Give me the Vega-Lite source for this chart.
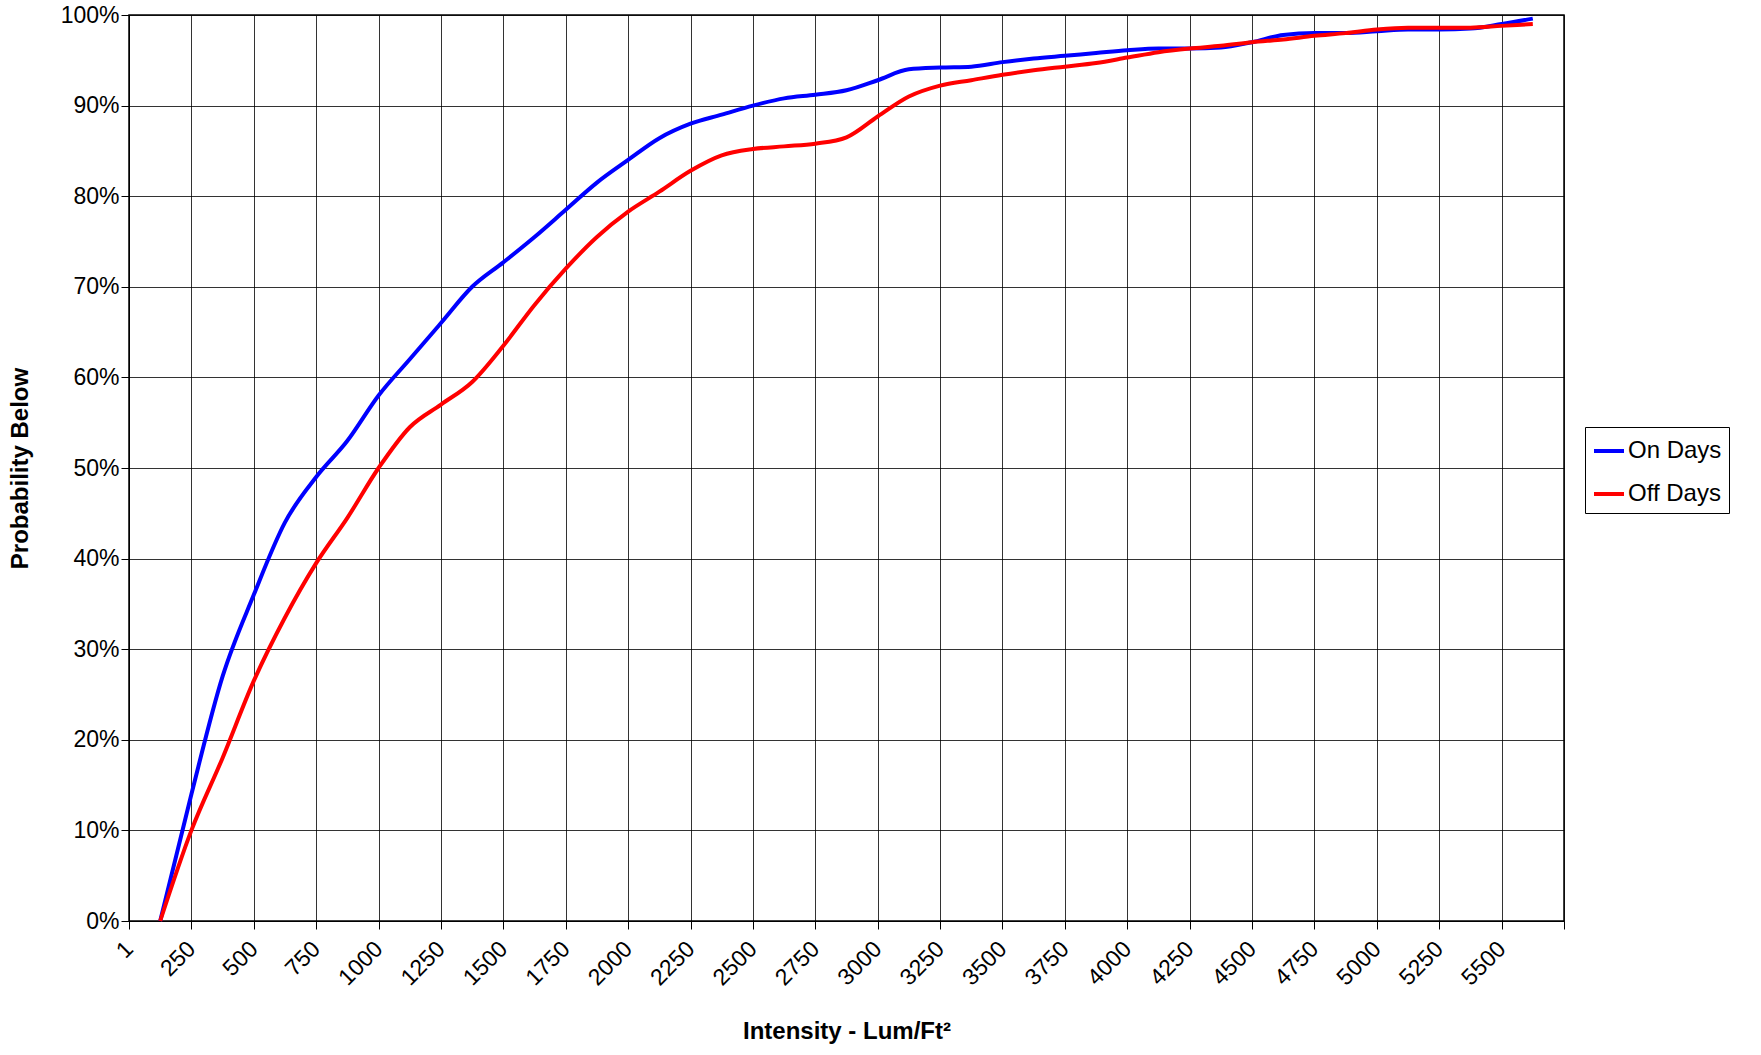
{
  "$schema": "https://vega.github.io/schema/vega-lite/v6.json",
  "width": 1435,
  "height": 906,
  "autosize": {"type": "none"},
  "padding": {"left": 129, "top": 15, "right": 197, "bottom": 134},
  "background": "white",
  "data": {
    "values": [
      {"x":125,"On Days":0,"Off Days":0},
      {"x":250,"On Days":14,"Off Days":10},
      {"x":375,"On Days":27,"Off Days":18},
      {"x":500,"On Days":36,"Off Days":26.5},
      {"x":625,"On Days":44,"Off Days":33.5},
      {"x":750,"On Days":49,"Off Days":39.5},
      {"x":875,"On Days":53,"Off Days":44.5},
      {"x":1000,"On Days":58,"Off Days":50},
      {"x":1125,"On Days":62,"Off Days":54.5},
      {"x":1250,"On Days":66,"Off Days":57},
      {"x":1375,"On Days":70,"Off Days":59.5},
      {"x":1500,"On Days":72.7,"Off Days":63.5},
      {"x":1625,"On Days":75.5,"Off Days":68},
      {"x":1750,"On Days":78.5,"Off Days":72},
      {"x":1875,"On Days":81.5,"Off Days":75.5},
      {"x":2000,"On Days":84,"Off Days":78.3},
      {"x":2125,"On Days":86.4,"Off Days":80.5},
      {"x":2250,"On Days":88,"Off Days":82.8},
      {"x":2375,"On Days":89,"Off Days":84.5},
      {"x":2500,"On Days":90,"Off Days":85.2},
      {"x":2625,"On Days":90.8,"Off Days":85.5},
      {"x":2750,"On Days":91.2,"Off Days":85.8},
      {"x":2875,"On Days":91.7,"Off Days":86.5},
      {"x":3000,"On Days":92.8,"Off Days":88.8},
      {"x":3125,"On Days":94,"Off Days":91},
      {"x":3250,"On Days":94.2,"Off Days":92.2},
      {"x":3375,"On Days":94.3,"Off Days":92.8},
      {"x":3500,"On Days":94.8,"Off Days":93.4},
      {"x":3625,"On Days":95.2,"Off Days":93.9},
      {"x":3750,"On Days":95.5,"Off Days":94.3},
      {"x":3875,"On Days":95.8,"Off Days":94.7},
      {"x":4000,"On Days":96.1,"Off Days":95.3},
      {"x":4125,"On Days":96.3,"Off Days":95.9},
      {"x":4250,"On Days":96.3,"Off Days":96.3},
      {"x":4375,"On Days":96.4,"Off Days":96.6},
      {"x":4500,"On Days":97,"Off Days":97},
      {"x":4625,"On Days":97.8,"Off Days":97.3},
      {"x":4750,"On Days":98,"Off Days":97.7},
      {"x":4875,"On Days":98,"Off Days":98},
      {"x":5000,"On Days":98.2,"Off Days":98.4},
      {"x":5125,"On Days":98.4,"Off Days":98.6},
      {"x":5250,"On Days":98.4,"Off Days":98.6},
      {"x":5375,"On Days":98.5,"Off Days":98.6},
      {"x":5500,"On Days":99,"Off Days":98.8},
      {"x":5625,"On Days":99.6,"Off Days":99}
    ]
  },
  "transform": [
    {"fold": ["On Days", "Off Days"], "as": ["series", "p"]}
  ],
  "mark": {"type": "line", "strokeWidth": 4, "interpolate": "monotone"},
  "encoding": {
    "x": {
      "field": "x", "type": "quantitative",
      "scale": {"domain": [0, 5750], "nice": false, "zero": false},
      "axis": {
        "values": [0,250,500,750,1000,1250,1500,1750,2000,2250,2500,2750,3000,3250,3500,3750,4000,4250,4500,4750,5000,5250,5500,5750],
        "labelExpr": "datum.value == 0 ? '1' : datum.value == 5750 ? '' : datum.label",
        "format": "d",
        "labelAngle": -45, "labelAlign": "right", "labelBaseline": "middle",
        "labelPadding": 16,
        "title": "Intensity - Lum/Ft²",
        "titlePadding": 30
      }
    },
    "y": {
      "field": "p", "type": "quantitative",
      "scale": {"domain": [0, 100], "nice": false},
      "axis": {
        "values": [0,10,20,30,40,50,60,70,80,90,100],
        "labelExpr": "datum.value + '%'",
        "title": "Probability Below",
        "titlePadding": 28
      }
    },
    "color": {
      "field": "series", "type": "nominal",
      "scale": {"domain": ["On Days", "Off Days"], "range": ["#0000ff", "#ff0000"]},
      "legend": {
        "title": null, "orient": "none", "legendX": 1456, "legendY": 412,
        "symbolType": "stroke", "symbolStrokeWidth": 4, "symbolSize": 900,
        "labelFontSize": 24, "rowPadding": 14, "labelOffset": 2,
        "strokeColor": "black", "padding": 7, "labelLimit": 300
      }
    }
  },
  "config": {
    "font": "Liberation Sans",
    "view": {"stroke": "black", "strokeWidth": 1.5},
    "axis": {
      "labelFont": "Liberation Sans", "labelFontSize": 23, "labelColor": "black",
      "titleFont": "Liberation Sans", "titleFontSize": 24, "titleFontWeight": "bold", "titleColor": "black",
      "gridColor": "black", "gridOpacity": 0.8, "gridWidth": 1,
      "domainColor": "black", "tickColor": "black", "tickSize": 8
    },
    "legend": {"labelFont": "Liberation Sans", "labelColor": "black"}
  }
}
